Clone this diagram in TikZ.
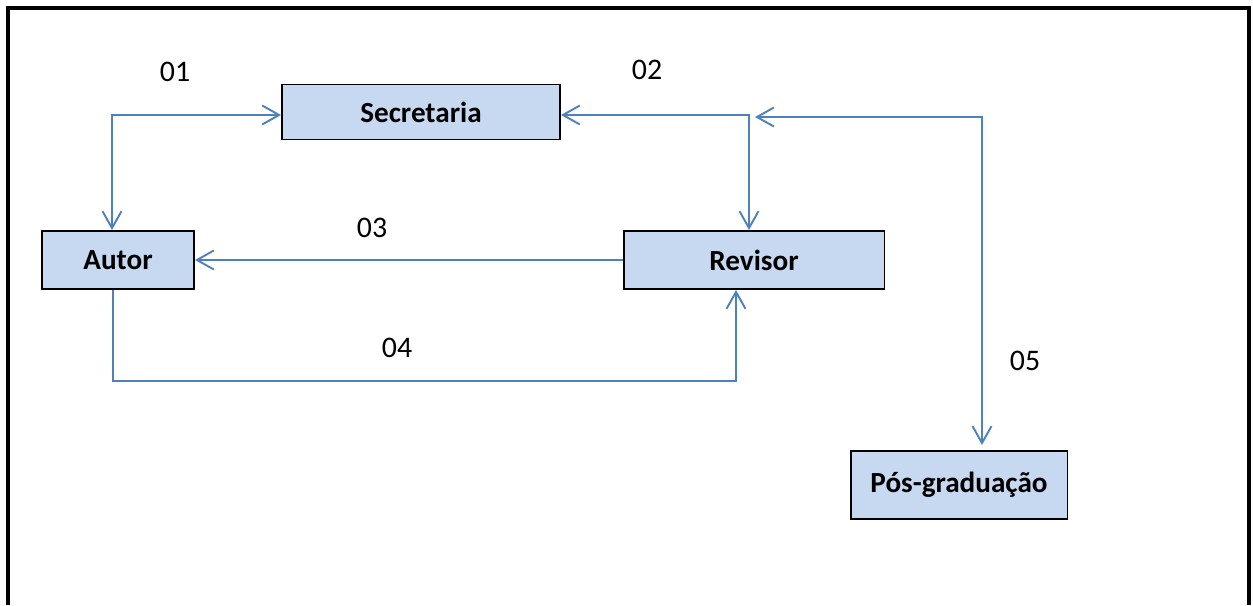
\documentclass[tikz,border=0pt]{standalone}
\usepackage{fontspec}
\setmainfont{Carlito}
\usetikzlibrary{arrows.meta}
\definecolor{caixaazul}{RGB}{198,217,240}
\definecolor{linhaazul}{RGB}{79,129,189}
\begin{document}
\begin{tikzpicture}[x=0.02cm, y=-0.02cm,
    caixa/.style={draw=black, line width=1.1pt, fill=caixaazul, inner sep=0pt, font=\fontsize{16.6}{19}\selectfont\bfseries},
    rotulo/.style={font=\fontsize{17}{20}\selectfont},
    seta/.style={draw=linhaazul, line width=1.1pt, arrows={-Straight Barb[length=9.6pt, width=10.8pt]}}]
    \useasboundingbox (0,0) rectangle (1253,605);
    \draw[line width=2.3pt] (8,605) -- (8,8) -- (1249,8) -- (1249,605);

    \node (Secretaria) at (421, 112) [caixa, minimum width=5.56cm, minimum height=1.1cm] {Secretaria};
    \node (Autor)      at (118, 260) [caixa, minimum width=3.04cm, minimum height=1.16cm] {Autor};
    \node (Revisor)    at (754, 260) [caixa, minimum width=5.22cm, minimum height=1.16cm] {Revisor};
    \node (Pos)        at (959, 485) [caixa, minimum width=4.34cm, minimum height=1.36cm] {Pós-graduação};

    \node (L01) at ( 175,  72) [rotulo] {01};
    \node (L02) at ( 647,  70) [rotulo] {02};
    \node (L03) at ( 372, 228) [rotulo] {03};
    \node (L04) at ( 397, 348) [rotulo] {04};
    \node (L05) at (1025, 361) [rotulo] {05};

    %-----

    \coordinate (C1) at (112, 115);
    \draw[seta, arrows={Straight Barb[length=9.6pt, width=10.8pt]-Straight Barb[length=9.6pt, width=10.8pt]}]
        (Autor.north -| C1) -- (C1) -- (Secretaria.west |- C1);

    \coordinate (C2) at (749, 115);
    \draw[seta, arrows={Straight Barb[length=9.6pt, width=10.8pt]-Straight Barb[length=9.6pt, width=10.8pt]}]
        (Secretaria.east |- C2) -- (C2) -- (Revisor.north -| C2);

    \coordinate (C5a) at (755, 117);
    \coordinate (C5b) at (982, 117);
    \coordinate (C5c) at (982, 445);
    \draw[seta, arrows={Straight Barb[length=9.6pt, width=10.8pt]-Straight Barb[length=9.6pt, width=10.8pt]}]
        (C5a) -- (C5b) -- (C5c);

    %-----

    \draw[seta] (Revisor.west) -- (Autor.east);

    \coordinate (C4a) at (113, 381);
    \coordinate (C4b) at (736, 381);
    \draw[seta] (Autor.south -| C4a) -- (C4a) -- (C4b) -- (Revisor.south -| C4b);
\end{tikzpicture}
\end{document}
